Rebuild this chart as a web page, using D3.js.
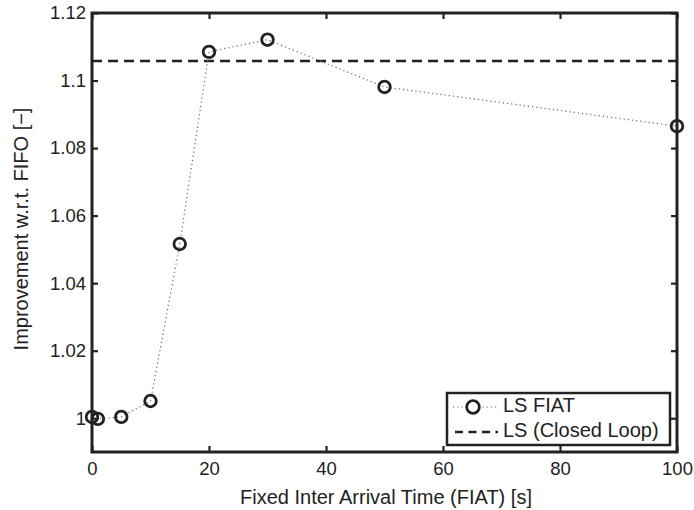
<!DOCTYPE html>
<html>
<head>
<meta charset="utf-8">
<script src="https://cdn.jsdelivr.net/npm/d3@7"></script>
<style>
  body { margin: 0; background: #fff; }
  text { font-family: "Liberation Sans", Arial, sans-serif; fill: #222; }
</style>
</head>
<body>
<div id="chart"></div>
<script>
"use strict";

// data
var fiatTimes = [0, 1, 5, 10, 15, 20, 30, 50, 100];
var lsFiat = [1.0004, 0.9998, 1.0004, 1.0051, 1.0516, 1.1085, 1.1121, 1.0981, 1.0865];
var closedLoop = 1.1058;
var xTicks = [0, 20, 40, 60, 80, 100];
var yTicks = [1, 1.02, 1.04, 1.06, 1.08, 1.1, 1.12];
var legendLabels = ["LS FIAT", "LS (Closed Loop)"];

var width = 694, height = 510;
var plotL = 92, plotR = 677, plotT = 13, plotB = 452;

var svg = d3.select("#chart").append("svg")
  .attr("width", width)
  .attr("height", height);

var x = d3.scaleLinear().domain([0, 100]).range([plotL, plotR]);
var y = d3.scaleLinear().domain([0.99, 1.12]).range([plotB, plotT]);

var fmt = function(d){ return String(+d.toFixed(2)); };

// axes with inward ticks
var xAxis = svg.append("g")
  .attr("transform", "translate(0," + plotB + ")")
  .call(d3.axisBottom(x).tickValues(xTicks).tickSize(-6).tickPadding(10).tickFormat(fmt));
var yAxis = svg.append("g")
  .attr("transform", "translate(" + plotL + ",0)")
  .call(d3.axisLeft(y).tickValues(yTicks).tickSize(-6).tickPadding(6).tickFormat(fmt));
// mirrored ticks
var xTop = svg.append("g")
  .attr("transform", "translate(0," + plotT + ")")
  .call(d3.axisTop(x).tickValues(xTicks).tickSize(-6).tickFormat(""));
var yRight = svg.append("g")
  .attr("transform", "translate(" + plotR + ",0)")
  .call(d3.axisRight(y).tickValues(yTicks).tickSize(-6).tickFormat(""));

[xAxis, yAxis, xTop, yRight].forEach(function(g){
  g.select(".domain").remove();
  g.selectAll(".tick line").attr("stroke", "#222").attr("stroke-width", 2.2);
  g.selectAll(".tick text").attr("font-size", "18.5px").attr("fill", "#222")
    .attr("font-family", "Liberation Sans, Arial, sans-serif");
});

svg.append("rect")
  .attr("x", plotL).attr("y", plotT)
  .attr("width", plotR - plotL).attr("height", plotB - plotT)
  .attr("fill", "none").attr("stroke", "#222").attr("stroke-width", 3);

// closed loop reference
svg.append("line")
  .attr("x1", x(0)).attr("x2", x(100))
  .attr("y1", y(closedLoop)).attr("y2", y(closedLoop))
  .attr("stroke", "#222").attr("stroke-width", 2.5)
  .attr("stroke-dasharray", "10,6");

var pts = fiatTimes.map(function(t, i){ return [t, lsFiat[i]]; });

svg.append("path")
  .datum(pts)
  .attr("d", d3.line().x(function(d){ return x(d[0]); }).y(function(d){ return y(d[1]); }))
  .attr("fill", "none")
  .attr("stroke", "#666")
  .attr("stroke-width", 1.2)
  .attr("stroke-dasharray", "1.2,3");

svg.selectAll("circle.pt")
  .data(pts)
  .enter()
  .append("circle")
    .attr("class", "pt")
    .attr("cx", function(d){ return x(d[0]); })
    .attr("cy", function(d){ return y(d[1]); })
    .attr("r", 5.8)
    .attr("fill", "none")
    .attr("stroke", "#222")
    .attr("stroke-width", 2.8);

// legend
var lg = svg.append("g").attr("transform", "translate(447,393)");
lg.append("rect")
  .attr("width", 223).attr("height", 52)
  .attr("fill", "#fff").attr("stroke", "#222").attr("stroke-width", 2.5);
lg.append("line")
  .attr("x1", 6).attr("x2", 51).attr("y1", 14).attr("y2", 14)
  .attr("stroke", "#666").attr("stroke-width", 1.2).attr("stroke-dasharray", "1.2,3");
lg.append("circle")
  .attr("cx", 26).attr("cy", 14).attr("r", 6.3)
  .attr("fill", "#fff").attr("stroke", "#222").attr("stroke-width", 2.8);
lg.append("line")
  .attr("x1", 8).attr("x2", 51).attr("y1", 39).attr("y2", 39)
  .attr("stroke", "#222").attr("stroke-width", 2.5).attr("stroke-dasharray", "8,5.5");
lg.selectAll("text.lab")
  .data(legendLabels)
  .enter()
  .append("text")
    .attr("class", "lab")
    .attr("x", 56)
    .attr("y", function(d, i){ return 19 + i * 25; })
    .attr("font-size", "20px")
    .text(function(d){ return d; });

// axis titles
svg.append("text")
  .attr("x", 386).attr("y", 504)
  .attr("text-anchor", "middle")
  .attr("font-size", "20px")
  .text("Fixed Inter Arrival Time (FIAT) [s]");
svg.append("text")
  .attr("transform", "translate(28,229) rotate(-90)")
  .attr("text-anchor", "middle")
  .attr("font-size", "20px")
  .text("Improvement w.r.t. FIFO [\u2212]");
</script>
</body>
</html>
